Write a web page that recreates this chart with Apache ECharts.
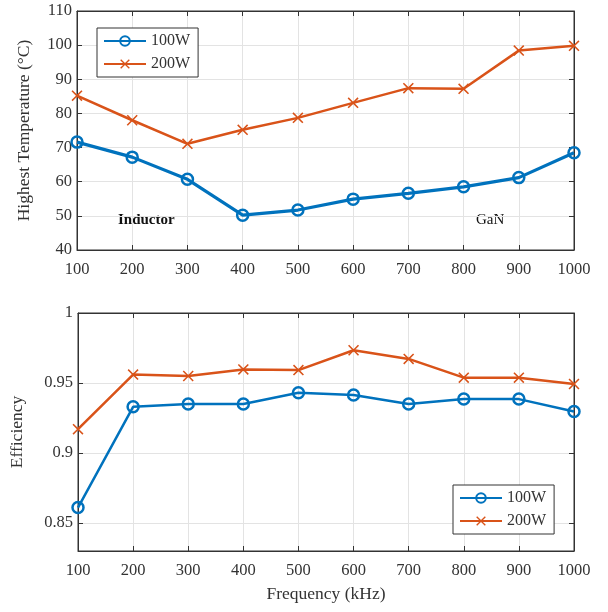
<!DOCTYPE html>
<html lang="en">
  <head>
    <meta charset="UTF-8" />
    <title>Temperature and efficiency</title>
    <script src="https://cdn.jsdelivr.net/npm/echarts@6/dist/echarts.min.js"></script>
  </head>
  <body style="margin: 0">
    <div id="chart" style="width: 608px; height: 612px"></div>
    <script>
      let freq = [100, 200, 300, 400, 500, 600, 700, 800, 900, 1000];
      let temp100 = [71.6, 67.2, 60.7, 50.2, 51.7, 54.9, 56.6, 58.5, 61.2, 68.5];
      let temp200 = [85.2, 78.0, 71.1, 75.2, 78.7, 83.1, 87.4, 87.2, 98.4, 99.8];
      let eff100 = [0.861, 0.933, 0.935, 0.935, 0.943, 0.9415, 0.935, 0.9385, 0.9385, 0.9297];
      let eff200 = [0.917, 0.956, 0.955, 0.9597, 0.9592, 0.9734, 0.9672, 0.9538, 0.9538, 0.9493];
      let effTicks = [0.85, 0.9, 0.95, 1];

      let blue = '#0072BD';
      let orange = '#D95319';
      let font = 'Liberation Serif';
      let crossPath = 'path://M0,1L1,0L5,4L9,0L10,1L6,5L10,9L9,10L5,6L1,10L0,9L4,5Z';

      function pairs(ys) {
        return freq.map((f, i) => [f, ys[i]]);
      }

      let myCharts = echarts.init(document.getElementById('chart'));

      let labelStyle = { fontFamily: font, fontSize: 16.5, color: '#333' };
      let nameStyle = { fontFamily: font, fontSize: 17.5, color: '#333' };
      let tick = { show: true, inside: true, length: 5, lineStyle: { color: '#333' } };

      function xAxis(gridIndex, name) {
        return {
          gridIndex: gridIndex,
          type: 'value',
          min: 100,
          max: 1000,
          interval: 100,
          name: name,
          nameLocation: 'middle',
          nameGap: 34,
          nameTextStyle: nameStyle,
          axisLine: { lineStyle: { color: '#333' } },
          axisTick: tick,
          axisLabel: Object.assign({ margin: 11, formatter: (v) => String(v) }, labelStyle),
          splitLine: { show: true, lineStyle: { color: '#e3e3e3' } },
        };
      }

      function topAxis(gridIndex) {
        return {
          gridIndex: gridIndex,
          type: 'value',
          position: 'top',
          min: 100,
          max: 1000,
          interval: 100,
          axisLine: { show: true, lineStyle: { color: '#333' } },
          axisTick: tick,
          axisLabel: { show: false },
          splitLine: { show: false },
        };
      }

      function legend(left, top) {
        return {
          orient: 'vertical',
          left: left,
          top: top,
          itemWidth: 42,
          itemHeight: 12,
          itemGap: 7,
          padding: [5, 8, 5, 6],
          borderColor: '#333',
          borderWidth: 1,
          backgroundColor: '#fff',
          textStyle: { fontFamily: font, fontSize: 16, color: '#333' },
        };
      }

      function series(name, idx, ys, isCircle, width) {
        let color = isCircle ? blue : orange;
        return {
          name: name,
          type: 'line',
          xAxisIndex: idx,
          yAxisIndex: idx,
          data: pairs(ys),
          color: color,
          symbol: isCircle ? 'circle' : crossPath,
          symbolSize: 11,
          lineStyle: { width: width, color: color },
          itemStyle: isCircle
            ? { color: 'rgba(255,255,255,0)', borderColor: color, borderWidth: 2.5 }
            : { color: color },
        };
      }

      let option = {
        animation: false,
        textStyle: { fontFamily: font },
        grid: [
          { left: 77, top: 11, width: 497, height: 239, show: true, borderColor: '#333', borderWidth: 1 },
          { left: 77, top: 313, width: 497, height: 238, show: true, borderColor: '#333', borderWidth: 1 },
        ],
        legend: [legend(97, 28), legend(453, 485)],
        xAxis: [xAxis(0, ''), xAxis(1, 'Frequency (kHz)'), topAxis(0), topAxis(1)],
        yAxis: [
          {
            gridIndex: 0,
            type: 'value',
            min: 40,
            max: 110,
            interval: 10,
            name: 'Highest Temperature (°C)',
            nameLocation: 'middle',
            nameGap: 44,
            nameTextStyle: nameStyle,
            axisLine: { show: true, lineStyle: { color: '#333' } },
            axisTick: tick,
            axisLabel: Object.assign({ margin: 5 }, labelStyle),
            splitLine: { show: true, lineStyle: { color: '#e3e3e3' } },
          },
          {
            gridIndex: 1,
            type: 'value',
            min: 0.83,
            max: 1,
            name: 'Efficiency',
            nameLocation: 'middle',
            nameGap: 52,
            nameTextStyle: nameStyle,
            axisLine: { show: true, lineStyle: { color: '#333' } },
            axisTick: Object.assign({ customValues: effTicks }, tick),
            axisLabel: Object.assign({ margin: 5, customValues: effTicks }, labelStyle),
            splitLine: { show: true, lineStyle: { color: '#e3e3e3' } },
          },
          {
            gridIndex: 0,
            type: 'value',
            position: 'right',
            min: 40,
            max: 110,
            interval: 10,
            axisLine: { show: true, lineStyle: { color: '#333' } },
            axisTick: tick,
            axisLabel: { show: false },
            splitLine: { show: false },
          },
          {
            gridIndex: 1,
            type: 'value',
            position: 'right',
            min: 0.83,
            max: 1,
            axisLine: { show: true, lineStyle: { color: '#333' } },
            axisTick: Object.assign({ customValues: effTicks }, tick),
            axisLabel: { show: false },
            splitLine: { show: false },
          },
        ],
        graphic: [
          { type: 'text', left: 118, top: 213, style: { text: 'Inductor', font: 'bold 15px "Liberation Serif"', fill: '#111' } },
          { type: 'text', left: 476, top: 213, style: { text: 'GaN', font: '15px "Liberation Serif"', fill: '#111' } },
        ],
        series: [
          series('100W', 0, temp100, true, 3.2),
          series('200W', 0, temp200, false, 2.5),
          series('100W', 1, eff100, true, 2.5),
          series('200W', 1, eff200, false, 2.5),
        ],
      };

      myCharts.setOption(option);
    </script>
  </body>
</html>
